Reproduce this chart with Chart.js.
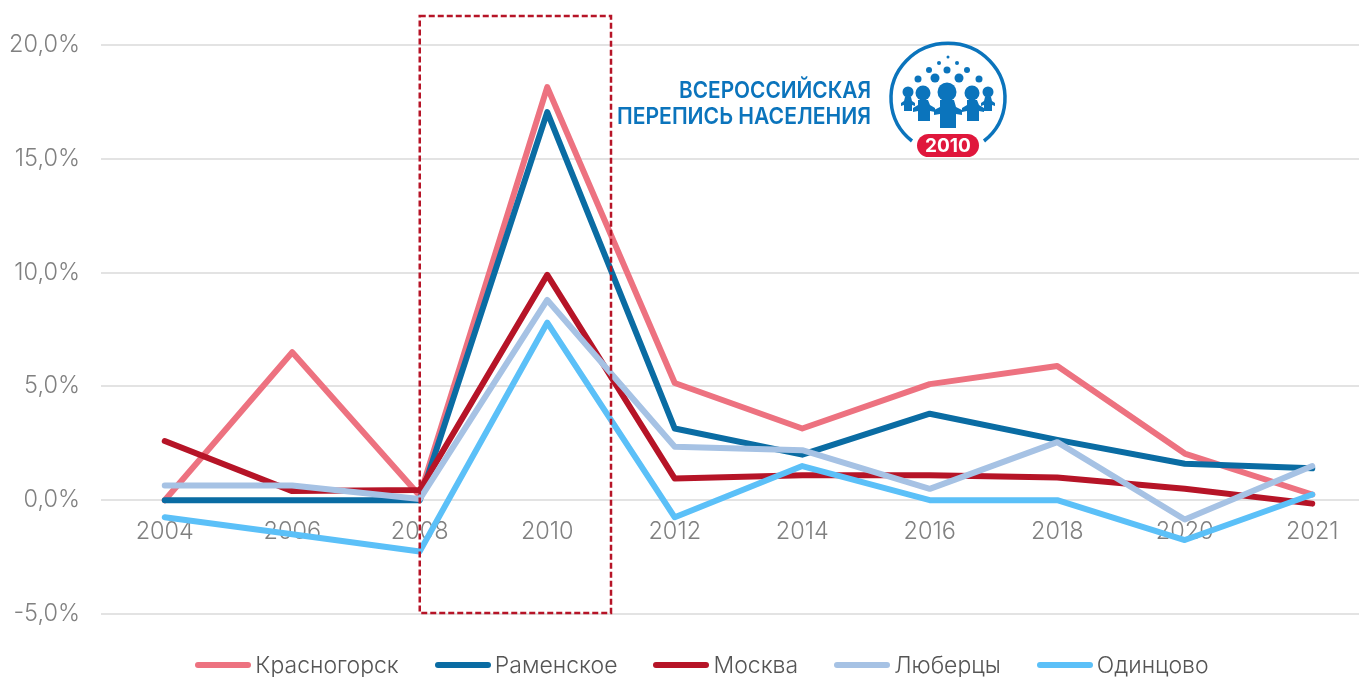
<!doctype html>
<html lang="ru">
<head>
<meta charset="utf-8">
<title>Прирост населения</title>
<style>
  html, body { margin: 0; width: 1359px; height: 677px; overflow: hidden; background: #fff; }
  #wrap { position: relative; width: 1404px; height: 677px; }
  #logo { position: absolute; left: 600px; top: 30px; filter: blur(.6px); }
  #legend { position: absolute; left: 0; top: 650px; width: 1404px; display: flex; justify-content: center; gap: 36px;
    font: 300 23px Inter, sans-serif; color: #555; }
  #legend span { display: flex; align-items: center; gap: 4px; line-height: 30px; }
  #legend i { display: block; width: 56px; height: 6px; border-radius: 3px; }
</style>
</head>
<body>
<div id="wrap">
  <canvas id="canvas" width="1404" height="677"></canvas>
  <svg id="logo" width="420" height="140" viewBox="600 30 420 140" fill="#0b74bc">
    <text x="871" y="98" text-anchor="end" font-family="Inter" font-weight="600" font-size="23" textLength="192" lengthAdjust="spacingAndGlyphs">ВСЕРОССИЙСКАЯ</text>
    <text x="871" y="124" text-anchor="end" font-family="Inter" font-weight="600" font-size="23" textLength="254" lengthAdjust="spacingAndGlyphs">ПЕРЕПИСЬ НАСЕЛЕНИЯ</text>
    <path d="M 912 141 A 57 55 0 1 1 984 141" fill="none" stroke="#0b74bc" stroke-width="3.5"/>
    <!-- dots -->
    <circle cx="948" cy="57" r="1.5"/><circle cx="939" cy="63" r="2"/><circle cx="957" cy="63" r="2"/>
    <circle cx="929" cy="70" r="3"/><circle cx="947" cy="70" r="3.5"/><circle cx="967" cy="70" r="3"/>
    <circle cx="935" cy="78" r="4.5"/><circle cx="959" cy="78" r="4.5"/><circle cx="918" cy="79" r="3.5"/><circle cx="979" cy="79" r="3.5"/>
    <!-- people -->
    <circle cx="947" cy="92" r="9.5"/><path d="M940 100h14l2 7 6 3v5l-6-1v14h-16v-14l-6 1v-5l6-3z"/>
    <circle cx="923" cy="93" r="7.5"/><path d="M918 100h10l2 5 5 3v4l-5-1v10h-12v-10l-5 1v-4l5-3z"/>
    <circle cx="972" cy="93" r="7.5"/><path d="M967 100h10l2 5 5 3v4l-5-1v10h-12v-10l-5 1v-4l5-3z"/>
    <circle cx="908" cy="92" r="5.5"/><path d="M905 97h6l1 4 3 2v3l-3-1v6h-8v-6l-3 1v-3l3-2z"/>
    <circle cx="988" cy="92" r="5.5"/><path d="M985 97h6l1 4 3 2v3l-3-1v6h-8v-6l-3 1v-3l3-2z"/>
    <rect x="917" y="134" width="62" height="23" rx="11.5" fill="#e0173c"/>
    <text x="948" y="152" text-anchor="middle" font-family="Inter" font-weight="700" font-size="19" fill="#fff">2010</text>
  </svg>
  <div id="legend"></div>
</div>
<script src="https://cdn.jsdelivr.net/npm/chart.js@4"></script>
<script>
const years = ['2004', '2006', '2008', '2010', '2012', '2014', '2016', '2018', '2020', '2021'];
const yTicks = [-5, 0, 5, 10, 15, 20];

const krasnogorsk = [0, 6.5, 0.2, 18.15, 5.15, 3.15, 5.1, 5.9, 2.05, 0.25];
const ramenskoe = [0, 0, 0, 17.05, 3.15, 2.0, 3.8, 2.65, 1.6, 1.4];
const moskva = [2.6, 0.4, 0.45, 9.9, 0.95, 1.1, 1.1, 1.0, 0.5, -0.15];
const lyubertsy = [0.65, 0.65, 0.05, 8.8, 2.35, 2.2, 0.5, 2.55, -0.85, 1.5];
const odintsovo = [-0.75, -1.5, -2.25, 7.8, -0.75, 1.5, 0, 0, -1.75, 0.25];

const names = ['Красногорск', 'Раменское', 'Москва', 'Люберцы', 'Одинцово'];
const values = [krasnogorsk, ramenskoe, moskva, lyubertsy, odintsovo];
const colors = ['#ed7280', '#0a6ca3', '#b61427', '#a6c2e4', '#5bc0f8'];

// dashed frame around the census year
const frame = {
  id: 'frame',
  afterDatasetsDraw(chart) {
    const { ctx, scales: { x, y } } = chart;
    const left = x.getPixelForValue(2);
    const right = (x.getPixelForValue(3) + x.getPixelForValue(4)) / 2;
    const top = y.getPixelForValue(20) - 29;
    const bottom = y.getPixelForValue(-5) - 1;
    ctx.save();
    ctx.strokeStyle = '#b61427';
    ctx.lineWidth = 2.5;
    ctx.setLineDash([6, 3]);
    ctx.strokeRect(left, top, right - left, bottom - top);
    ctx.restore();
  }
};

new Chart(document.getElementById('canvas').getContext('2d'), {
  type: 'line',
  data: {
    labels: years,
    datasets: names.map((name, i) => ({
      label: name,
      data: values[i],
      borderColor: colors[i],
      backgroundColor: colors[i],
      borderWidth: 6,
      borderCapStyle: 'round',
      borderJoinStyle: 'round',
      pointRadius: 0,
      tension: 0,
      order: names.length - i
    }))
  },
  options: {
    responsive: false,
    animation: false,
    layout: { padding: { top: 45, right: 28, bottom: 63, left: 0 } },
    plugins: { legend: { display: false }, tooltip: { enabled: false } },
    scales: {
      x: {
        position: { y: 0 },
        offset: true,
        grid: { display: false },
        border: { display: false },
        ticks: { color: '#808080', font: { family: 'Inter', size: 23.5, weight: '300' }, padding: 10, maxRotation: 0, autoSkip: false }
      },
      y: {
        min: -5,
        max: 20,
        afterBuildTicks(axis) { axis.ticks = yTicks.map((v) => ({ value: v })); },
        afterFit(axis) { axis.width = 101; },
        grid: { color: '#e3e3e3', lineWidth: 2, drawTicks: false },
        border: { display: false },
        ticks: {
          color: '#808080',
          font: { family: 'Inter', size: 23.5, weight: '300' },
          padding: 21,
          callback: (v) => v.toFixed(1).replace('.', ',') + '%'
        }
      }
    }
  },
  plugins: [frame]
});

const legend = document.getElementById('legend');
names.forEach((name, i) => {
  const item = document.createElement('span');
  const swatch = document.createElement('i');
  swatch.style.background = colors[i];
  item.append(swatch, name);
  legend.append(item);
});
</script>
</body>
</html>
